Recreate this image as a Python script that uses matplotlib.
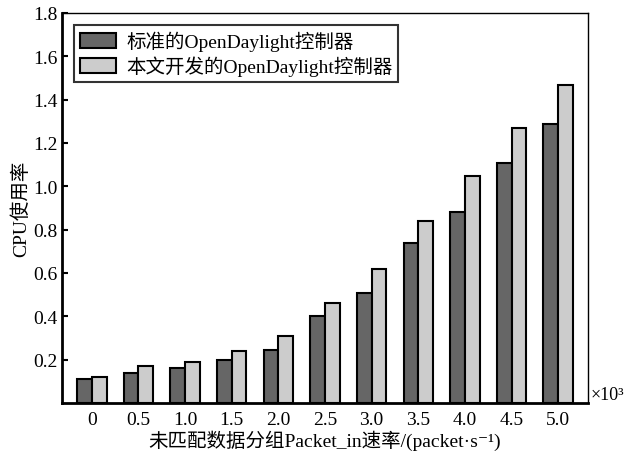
import numpy as np
import matplotlib
matplotlib.use('Agg')
from matplotlib import pyplot as plt

plt.rcParams['font.family'] = ['Liberation Serif', 'Noto Sans CJK SC', 'DejaVu Serif']
plt.rcParams['axes.unicode_minus'] = False

rates = ['0', '0.5', '1.0', '1.5', '2.0', '2.5', '3.0', '3.5', '4.0', '4.5', '5.0']
standard = [0.11, 0.14, 0.16, 0.20, 0.245, 0.40, 0.51, 0.74, 0.88, 1.11, 1.29]
ours = [0.12, 0.17, 0.19, 0.24, 0.31, 0.46, 0.62, 0.84, 1.05, 1.27, 1.47]
names = ['标准的OpenDaylight控制器', '本文开发的OpenDaylight控制器']

fig = plt.figure(figsize=(6.39, 4.56), dpi=100)
ax = fig.add_axes([62 / 639, 1 - 404 / 456, 526 / 639, 390 / 456])

x = np.arange(len(rates))
w = 0.315
ax.bar(x - w / 2, standard, w, color='#666666', edgecolor='black', linewidth=1.5, label=names[0])
ax.bar(x + w / 2, ours, w, color='#cccccc', edgecolor='black', linewidth=1.5, label=names[1])

ax.set_xlim(-0.64, 10.64)
ax.set_ylim(0, 1.8)
ax.set_xticks(x)
ax.set_xticklabels(rates, fontsize=14)
ax.set_yticks(np.arange(0.2, 1.81, 0.2))
ax.set_yticklabels(['%.1f' % v for v in np.arange(0.2, 1.81, 0.2)], fontsize=14)
ax.tick_params(axis='x', length=0, pad=6)
ax.tick_params(axis='y', direction='in', length=4, width=1.5, pad=3)

for s in ['left', 'bottom']:
    ax.spines[s].set_linewidth(2)
for s in ['top', 'right']:
    ax.spines[s].set_linewidth(1)

ax.set_ylabel('CPU使用率', fontsize=14, labelpad=2)
ax.set_xlabel('未匹配数据分组Packet_in速率/(packet·s⁻¹)', fontsize=14, labelpad=1)
ax.text(1.004, 0.0, '×10³', transform=ax.transAxes, fontsize=13, ha='left', va='bottom')

leg = ax.legend(loc='upper left', fontsize=14, frameon=True, fancybox=False,
                edgecolor='black', handlelength=1.9, handleheight=0.8,
                borderaxespad=0.6, labelspacing=0.25, borderpad=0.3, handletextpad=0.5)
leg.get_frame().set_linewidth(1.5)

fig.savefig('out.png', dpi=100)
